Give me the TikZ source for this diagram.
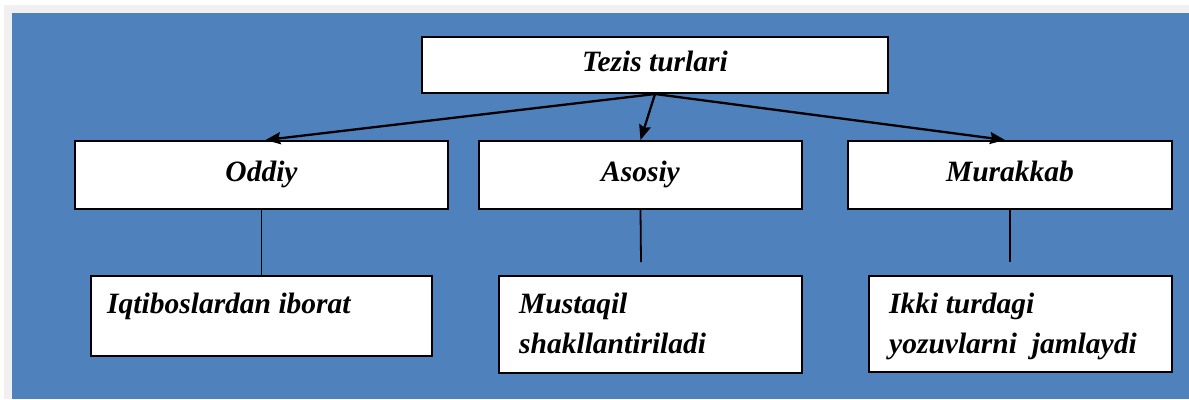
\documentclass[tikz,border=0pt]{standalone}
\usepackage{fontspec}
\setmainfont{Liberation Serif}
\usetikzlibrary{arrows.meta,shadows}
\definecolor{bgblue}{HTML}{4F81BD}
\definecolor{bggray}{HTML}{F0F0F0}
\begin{document}
\begin{tikzpicture}[x=1bp,y=-1bp,
  box/.style={draw=black,line width=2bp,fill=white,inner sep=0pt,
    drop shadow={shadow xshift=1.4bp,shadow yshift=-1.4bp,fill=black!55,opacity=1},
    font=\fontsize{29.5bp}{40bp}\selectfont\bfseries\itshape,
    text height=18bp,text depth=6bp},
  lbl/.style={inner sep=0pt,anchor=base west,align=left,
    font=\fontsize{29.5bp}{40bp}\selectfont\bfseries\itshape},
  arr/.style={line width=2.3bp,-{Stealth[length=15bp,width=12bp,inset=2bp]}},
  stem/.style={line width=1.8bp}]
\useasboundingbox (0,0) rectangle (1189,399);
\fill[white] (0,0) rectangle (1189,399);
\fill[bggray] (4,5) rectangle (1189,399);
\fill[bgblue] (12,13) rectangle (1189,399);
% top
\node[box,minimum width=466bp,minimum height=56bp] (top) at (655,65) {Tezis turlari};
% middle
\node[box,minimum width=373bp,minimum height=68bp] (oddiy) at (261.5,175) {Oddiy};
\node[box,minimum width=323bp,minimum height=68bp] (asosiy) at (640.5,175) {Asosiy};
\node[box,minimum width=324bp,minimum height=68bp] (murakkab) at (1010,175) {Murakkab};
% bottom
\node[box,minimum width=341bp,minimum height=80bp] (iq) at (261.5,316) {};
\node[box,minimum width=303bp,minimum height=97bp] (mus) at (650.5,324.5) {};
\node[box,minimum width=303bp,minimum height=96bp] (ikki) at (1020.5,324) {};
\node[lbl] (iqt) at (107,313) {Iqtiboslardan iborat};
\node[lbl] (must) at (519,353) {Mustaqil\\shakllantiriladi};
\node[lbl] (ikt) at (889,353) {Ikki turdagi\\yozuvlarni\ \ jamlaydi};
% arrows
\draw[arr] (top.south) -- ([xshift=4bp]oddiy.north);
\draw[arr] (top.south) -- (asosiy.north);
\draw[arr] (top.south) -- ([xshift=-5bp]murakkab.north);
% stems
\coordinate (asend) at (641,262);
\coordinate (muend) at (1010,262);
\draw[stem] (oddiy.south) -- (iq.north);
\draw[stem] (asosiy.south) -- (asend);
\draw[stem] (murakkab.south) -- (muend);
\end{tikzpicture}
\end{document}
